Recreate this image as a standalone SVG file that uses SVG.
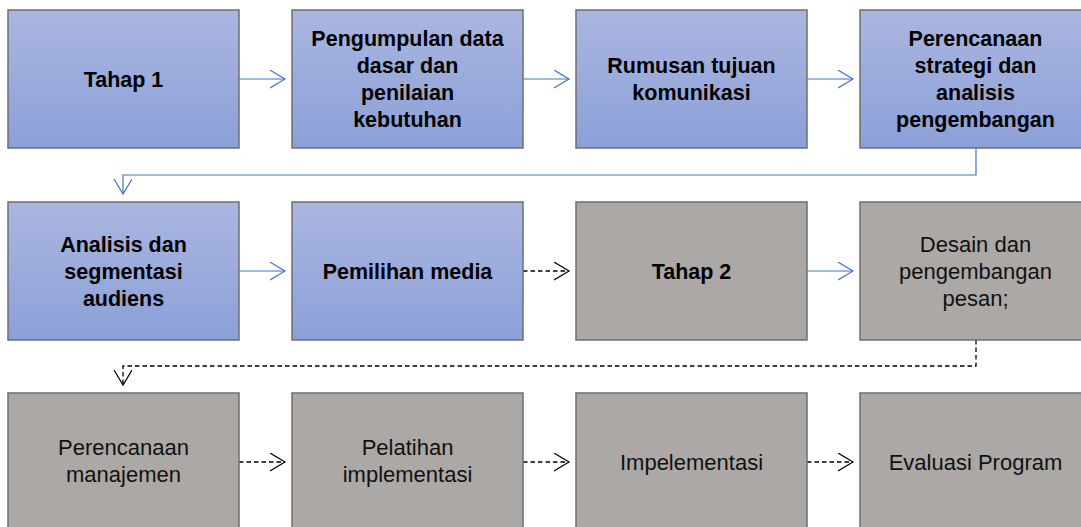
<svg xmlns="http://www.w3.org/2000/svg" width="1081" height="527" viewBox="0 0 1081 527">
<defs>
<linearGradient id="blue" x1="0" y1="0" x2="0" y2="1">
<stop offset="0" stop-color="#aab6e0"/>
<stop offset="1" stop-color="#8ba0d8"/>
</linearGradient>
<marker id="ab" markerWidth="18" markerHeight="20" refX="15" refY="9" orient="auto" markerUnits="userSpaceOnUse">
<path d="M0,0 L15,9 L0,18" fill="none" stroke="#4472c4" stroke-width="1.2"/>
</marker>
<marker id="ak" markerWidth="18" markerHeight="20" refX="15" refY="9" orient="auto" markerUnits="userSpaceOnUse">
<path d="M0,0 L15,9 L0,18" fill="none" stroke="#000" stroke-width="1.2"/>
</marker>
</defs>
<style>
.b{fill:url(#blue);stroke:#6f6f6f;stroke-width:1.5}
.g{fill:#aca8a6;stroke:#6f6f6f;stroke-width:1.5}
.tb{font-family:"Liberation Sans",Arial,sans-serif;font-weight:bold;font-size:21.5px;fill:#000;text-anchor:middle}
.tr{font-family:"Liberation Sans",Arial,sans-serif;font-size:22px;fill:#111;text-anchor:middle}
.cb{fill:none;stroke:#4472c4;stroke-width:1.2;marker-end:url(#ab)}
.ck{fill:none;stroke:#000;stroke-width:1.3;stroke-dasharray:4.5,3;marker-end:url(#ak)}
</style>
<rect width="1081" height="527" fill="#fff"/>
<g id="connectors">
<path class="cb" d="M239,79 H285"/>
<path class="cb" d="M523,79 H569"/>
<path class="cb" d="M807,79 H853"/>
<path class="cb" d="M976,148 V175 H123 V194"/>
<path class="cb" d="M239,271 H285"/>
<path class="ck" d="M523,271 H569"/>
<path class="cb" d="M807,271 H853"/>
<path class="ck" d="M976,340 V366 H123 V385"/>
<path class="ck" d="M239,462 H285"/>
<path class="ck" d="M523,462 H569"/>
<path class="ck" d="M807,462 H853"/>
</g>
<g id="n1"><rect class="b" x="8" y="10" width="231" height="138"/><text class="tb" x="123.5" y="86.5">Tahap 1</text></g>
<g id="n2"><rect class="b" x="292" y="10" width="231" height="138"/><text class="tb" x="407.5" y="46">Pengumpulan data</text><text class="tb" x="407.5" y="73">dasar dan</text><text class="tb" x="407.5" y="100">penilaian</text><text class="tb" x="407.5" y="127">kebutuhan</text></g>
<g id="n3"><rect class="b" x="576" y="10" width="231" height="138"/><text class="tb" x="691.5" y="73">Rumusan tujuan</text><text class="tb" x="691.5" y="100">komunikasi</text></g>
<g id="n4"><rect class="b" x="860" y="10" width="231" height="138"/><text class="tb" x="975.5" y="46">Perencanaan</text><text class="tb" x="975.5" y="73">strategi dan</text><text class="tb" x="975.5" y="100">analisis</text><text class="tb" x="975.5" y="127">pengembangan</text></g>
<g id="n5"><rect class="b" x="8" y="202" width="231" height="138"/><text class="tb" x="123.5" y="251.5">Analisis dan</text><text class="tb" x="123.5" y="278.5">segmentasi</text><text class="tb" x="123.5" y="305.5">audiens</text></g>
<g id="n6"><rect class="b" x="292" y="202" width="231" height="138"/><text class="tb" x="407.5" y="278.5">Pemilihan media</text></g>
<g id="n7"><rect class="g" x="576" y="202" width="231" height="138"/><text class="tb" x="691.5" y="278.5">Tahap 2</text></g>
<g id="n8"><rect class="g" x="860" y="202" width="231" height="138"/><text class="tr" x="975.5" y="252">Desain dan</text><text class="tr" x="975.5" y="279">pengembangan</text><text class="tr" x="975.5" y="306">pesan;</text></g>
<g id="n9"><rect class="g" x="8" y="393" width="231" height="140"/><text class="tr" x="123.5" y="455">Perencanaan</text><text class="tr" x="123.5" y="482">manajemen</text></g>
<g id="n10"><rect class="g" x="292" y="393" width="231" height="140"/><text class="tr" x="407.5" y="455">Pelatihan</text><text class="tr" x="407.5" y="482">implementasi</text></g>
<g id="n11"><rect class="g" x="576" y="393" width="231" height="140"/><text class="tr" x="691.5" y="469.5">Impelementasi</text></g>
<g id="n12"><rect class="g" x="860" y="393" width="231" height="140"/><text class="tr" x="975.5" y="469.5">Evaluasi Program</text></g>
</svg>
